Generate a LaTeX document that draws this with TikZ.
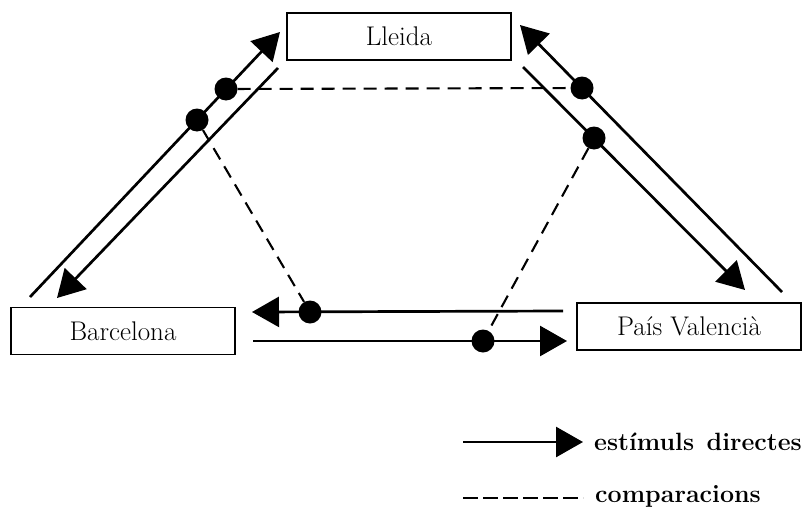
\documentclass[tikz,border=0pt]{standalone}
\usetikzlibrary{arrows.meta, positioning}

\begin{document}
\begin{tikzpicture}[
    x=1pt, y=-1pt,
    place/.style={rectangle, draw, line width=1.9pt, minimum width=224pt, minimum height=47pt, inner sep=0pt, font=\fontsize{27}{30}\selectfont},
    dot/.style={circle, fill=black, inner sep=0pt, minimum size=23pt},
    direct/.style={line width=2.7pt, -{Triangle[length=27pt, width=30pt]}},
    cmp/.style={line width=2.1pt, dash pattern=on 13pt off 8pt},
    key/.style={font=\fontsize{25}{30}\selectfont\bfseries, anchor=west, inner sep=0pt}
]
    \useasboundingbox (0,0) rectangle (811,514);

    \node[place] (lleida) at (399,36.5) {Lleida};
    \node[place] (barcelona) at (123,331) {Barcelona};
    \node[place] (valencia) at (689,326.5) {País Valencià};

    % ends of the parallel lines
    \coordinate (bl1) at (30,297);  \coordinate (bl2) at (280,32);
    \coordinate (lb1) at (278,68);  \coordinate (lb2) at (57,298);
    \coordinate (vl1) at (782,292); \coordinate (vl2) at (520,25);
    \coordinate (lv1) at (523,67);  \coordinate (lv2) at (745,290);
    \coordinate (vb1) at (563,311); \coordinate (vb2) at (252,312);
    \coordinate (bv1) at (253,341); \coordinate (bv2) at (567,341);

    \draw[direct] (bl1) -- (bl2);
    \draw[direct] (lb1) -- (lb2);
    \draw[direct] (vl1) -- (vl2);
    \draw[direct] (lv1) -- (lv2);
    \draw[direct] (vb1) -- (vb2);
    \draw[direct] (bv1) -- (bv2);

    \node[dot] (d1) at (226,89) {};
    \node[dot] (d2) at (197,120) {};
    \node[dot] (d3) at (582,88) {};
    \node[dot] (d4) at (594,138) {};
    \node[dot] (d5) at (310,312) {};
    \node[dot] (d6) at (483,341) {};

    \draw[cmp] (d1) -- (d3);
    \draw[cmp] (d2) -- (d5);
    \draw[cmp] (d4) -- (d6);

    % legend
    \coordinate (k1a) at (463,442); \coordinate (k1b) at (583,442);
    \coordinate (k2a) at (463,498); \coordinate (k2b) at (583,498);
    \draw[direct] (k1a) -- (k1b);
    \draw[cmp, dash pattern=on 15pt off 5pt] (k2a) -- (k2b);
    \node[key, right=11pt of k1b] (k1) {estímuls\enspace directes};
    \node[key, right=12pt of k2b, yshift=2pt] (k2) {comparacions};
\end{tikzpicture}
\end{document}
